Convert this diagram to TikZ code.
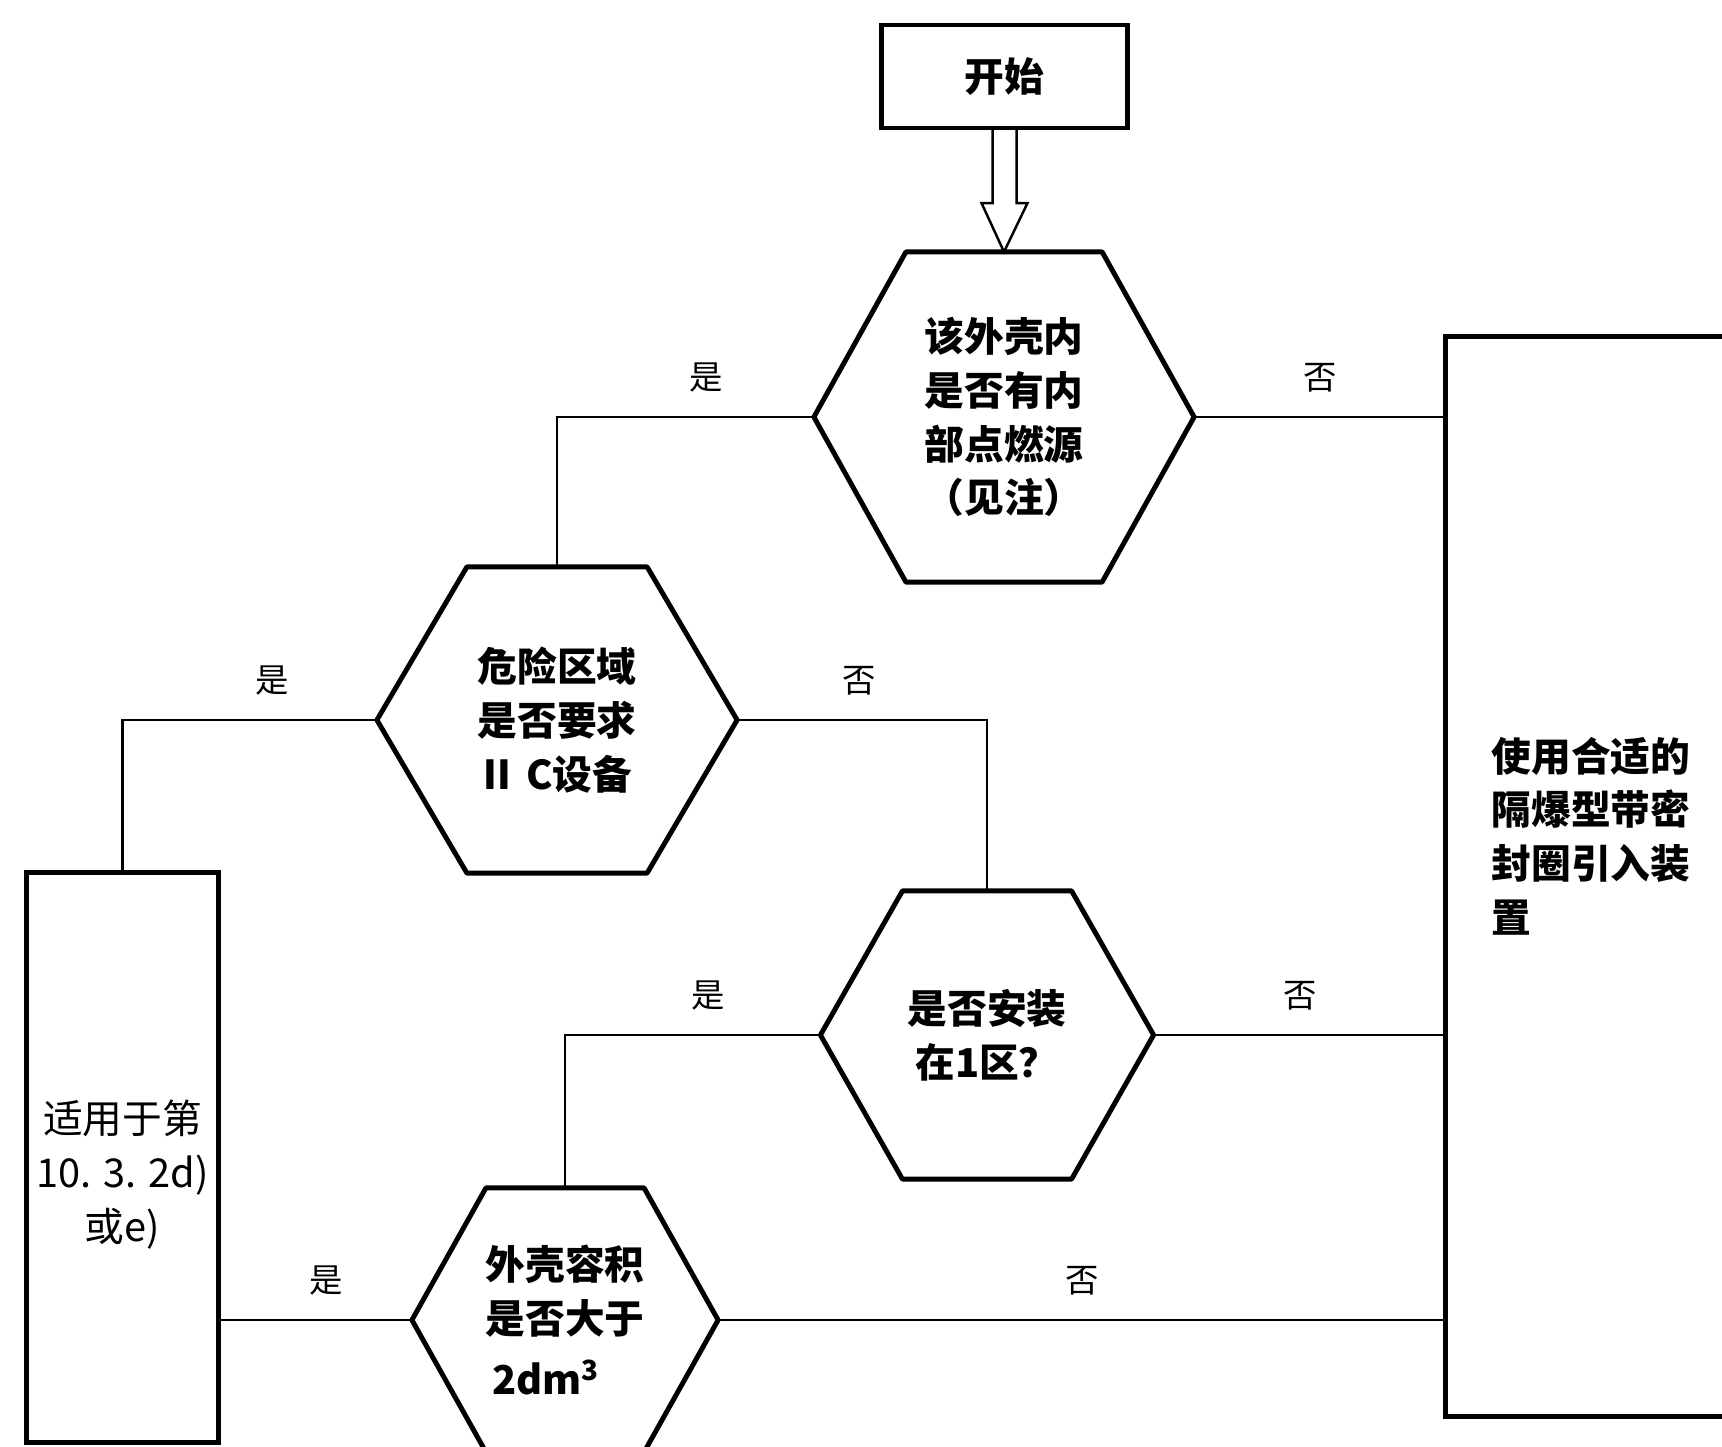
\documentclass[tikz,border=0pt]{standalone}
\usepackage{fontspec}
\setmainfont{Noto Sans CJK SC}
\usetikzlibrary{calc}

\newcommand{\hexfont}{\fontsize{11.3pt}{15.3pt}\selectfont\bfseries}
\newcommand{\boxfont}{\fontsize{11.3pt}{15.3pt}\selectfont}
\newcommand{\lblfont}{\fontsize{9.5pt}{11pt}\selectfont}
\newcommand{\drawhex}[2]{\draw[line width=1.4pt, line join=round] (#1.west) -- ($(#1.north west)+(#2,0)$) -- ($(#1.north east)+(-#2,0)$) -- (#1.east) -- ($(#1.south east)+(-#2,0)$) -- ($(#1.south west)+(#2,0)$) -- cycle;}

\begin{document}
\begin{tikzpicture}[x=0.01cm, y=-0.01cm,
    hexnode/.style={inner sep=0pt, outer sep=0pt, align=center, font=\hexfont},
    boxnode/.style={draw, line width=1.4pt, inner sep=0pt, outer sep=0pt},
    txt/.style={inner sep=0pt, font=\boxfont},
    lbl/.style={font=\lblfont, inner sep=0pt, yshift=0.39cm},
    conn/.style={line width=0.6pt}]

            \useasboundingbox (0,0) rectangle (1722,1446);

            \node[boxnode, minimum width=2.45cm, minimum height=1.03cm, font=\hexfont] (start) at (1004.5,76.5) {开始};

            \node[hexnode, minimum width=3.8cm, minimum height=3.3cm] (h1) at (1004,417) {该外壳内\\是否有内\\部点燃源\\（见注）};
            \drawhex{h1}{92}

            \node[hexnode, minimum width=3.6cm, minimum height=3.06cm, align=left] (h2) at (557,720) {危险区域\\是否要求\\Ⅱ C设备};
            \drawhex{h2}{90}

            \node[hexnode, minimum width=3.33cm, minimum height=2.88cm] (h3) at (987,1035) {是否安装\\在1区？};
            \drawhex{h3}{82}

            \node[hexnode, minimum width=3.06cm, minimum height=2.64cm, align=left] (h4) at (565,1320) {外壳容积\\是否大于\\[2pt]\,2dm\textsuperscript{3}};
            \drawhex{h4}{74}

            \node[boxnode, minimum width=1.91cm, minimum height=5.69cm] (app) at (122.5,1157.5) {};
            \node[txt, align=center] (apptxt) at ($(app.center)+(0,17)$) {适用于第\\10. 3. 2d)\\或e)};

            \node[boxnode, minimum width=2.94cm, minimum height=10.79cm] (use) at (1593,876.5) {};
            \node[txt, anchor=west, align=left, font=\hexfont] (usetxt) at (1491,836) {使用合适的\\隔爆型带密\\封圈引入装\\置};

            \draw[line width=0.7pt, line join=miter] ($(start.south)+(-12,0)$) -- ++(0,75) -- ++(-11,0) -- (h1.north) -- ($(start.south)+(23,75)$) -- ++(-11,0) -- ($(start.south)+(12,0)$);

            \draw[conn] (h1.west) -| node[lbl, pos=0.21] {是} (h2.north);
            \draw[conn] (h1.east) -- node[lbl] {否} (h1.east -| use.west);
            \draw[conn] (h2.west) -| node[lbl, pos=0.206] {是} (app.north);
            \draw[conn] (h2.east) -| node[lbl, pos=0.244] {否} (h3.north);
            \draw[conn] (h3.west) -| node[lbl, pos=0.22] {是} (h4.north);
            \draw[conn] (h3.east) -- node[lbl] {否} (h3.east -| use.west);
            \draw[conn] (h4.west) -- node[lbl, pos=0.44] {是} (h4.west -| app.east);
            \draw[conn] (h4.east) -- node[lbl] {否} (h4.east -| use.west);
        \end{tikzpicture}
\end{document}
